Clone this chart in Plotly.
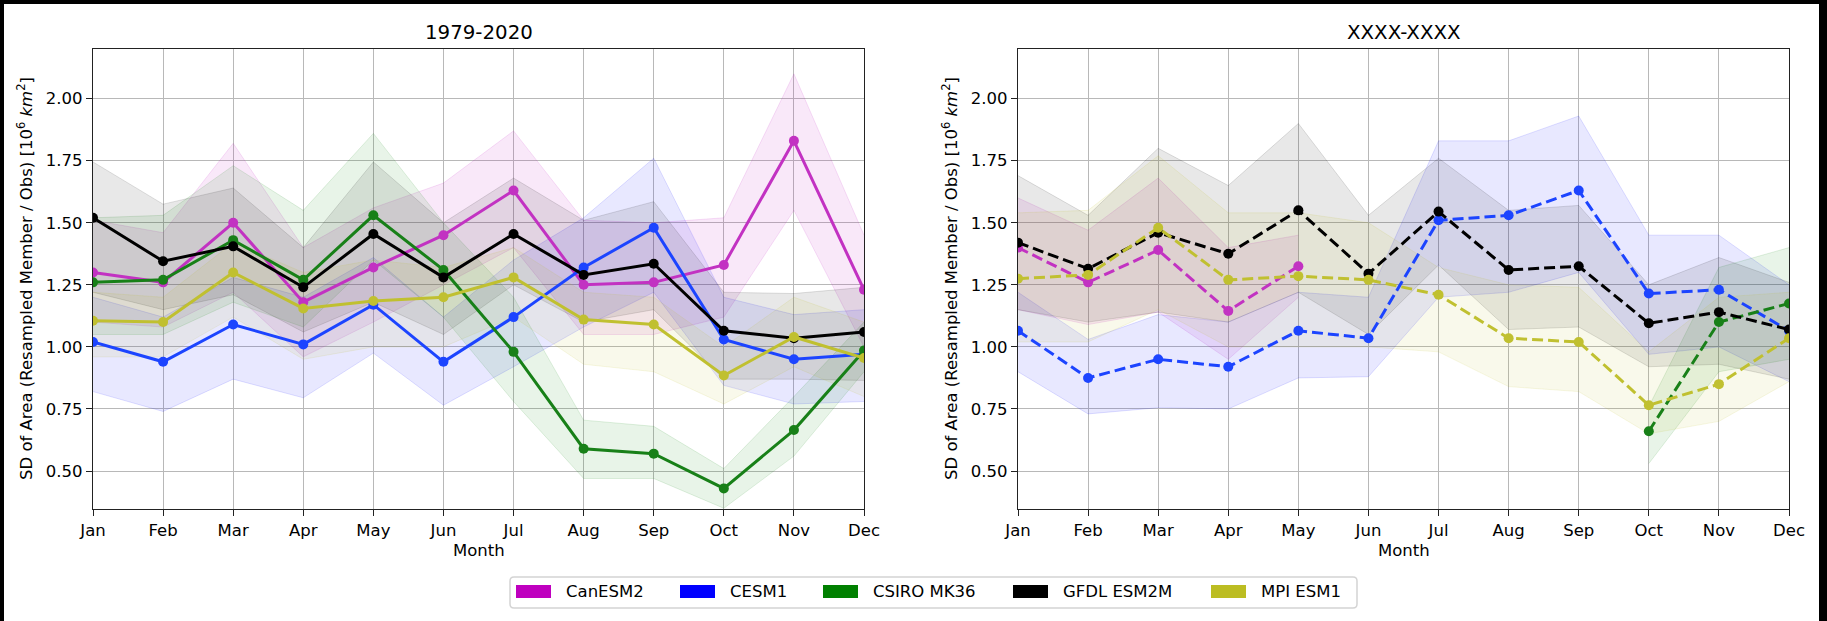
import plotly.graph_objects as go

W, H = 1827, 621

months = ["Jan", "Feb", "Mar", "Apr", "May", "Jun", "Jul", "Aug", "Sep", "Oct", "Nov", "Dec"]
models = ["CanESM2", "CESM1", "CSIRO MK36", "GFDL ESM2M", "MPI ESM1"]
titles = ["1979-2020", "XXXX-XXXX"]
yticks = [0.50, 0.75, 1.00, 1.25, 1.50, 1.75, 2.00]

# ---- left panel (1979-2020) ----
can_L = [1.30, 1.26, 1.50, 1.18, 1.32, 1.45, 1.63, 1.25, 1.26, 1.33, 1.83, 1.23]
can_L_up = [1.51, 1.46, 1.82, 1.40, 1.56, 1.66, 1.87, 1.51, 1.50, 1.52, 2.10, 1.45]
can_L_lo = [1.10, 1.08, 1.22, 0.96, 1.10, 1.25, 1.40, 1.05, 1.05, 1.12, 1.55, 1.00]

cesm_L = [1.02, 0.94, 1.09, 1.01, 1.17, 0.94, 1.12, 1.32, 1.48, 1.03, 0.95, 0.97]
cesm_L_up = [1.20, 1.12, 1.28, 1.20, 1.36, 1.12, 1.35, 1.52, 1.76, 1.20, 1.13, 1.15]
cesm_L_lo = [0.82, 0.74, 0.87, 0.795, 0.975, 0.765, 0.92, 1.08, 1.22, 0.845, 0.77, 0.78]

csiro_L = [1.26, 1.27, 1.43, 1.27, 1.53, 1.31, 0.98, 0.59, 0.57, 0.43, 0.665, 0.985]
csiro_L_up = [1.52, 1.53, 1.73, 1.55, 1.86, 1.50, 1.20, 0.705, 0.68, 0.51, 0.80, 1.10]
csiro_L_lo = [1.05, 1.05, 1.18, 1.08, 1.35, 1.12, 0.78, 0.47, 0.47, 0.35, 0.56, 0.90]

gfdl_L = [1.52, 1.345, 1.405, 1.24, 1.455, 1.28, 1.455, 1.29, 1.335, 1.065, 1.035, 1.06]
gfdl_L_up = [1.745, 1.575, 1.64, 1.40, 1.745, 1.50, 1.68, 1.51, 1.585, 1.22, 1.215, 1.24]
gfdl_L_lo = [1.22, 1.15, 1.21, 1.06, 1.18, 1.05, 1.25, 1.10, 1.15, 0.87, 0.87, 0.865]

mpi_L = [1.105, 1.10, 1.30, 1.155, 1.185, 1.20, 1.28, 1.11, 1.09, 0.885, 1.04, 0.955]
mpi_L_up = [1.22, 1.20, 1.42, 1.30, 1.35, 1.32, 1.40, 1.22, 1.20, 1.00, 1.20, 1.10]
mpi_L_lo = [0.96, 0.96, 1.12, 0.95, 1.00, 1.00, 1.12, 0.93, 0.90, 0.77, 0.92, 0.80]

# ---- right panel (XXXX-XXXX) ----
can_R = [1.40, 1.26, 1.39, 1.145, 1.325, None, None, None, None, None, None, None]
can_R_up = [1.60, 1.47, 1.68, 1.40, 1.45, None, None, None, None, None, None, None]
can_R_lo = [1.15, 1.09, 1.14, 0.95, 1.20, None, None, None, None, None, None, None]

cesm_R = [1.065, 0.875, 0.95, 0.92, 1.065, 1.035, 1.51, 1.53, 1.63, 1.215, 1.23, 1.065]
cesm_R_up = [1.22, 1.03, 1.13, 1.10, 1.22, 1.20, 1.83, 1.83, 1.93, 1.45, 1.45, 1.25]
cesm_R_lo = [0.90, 0.73, 0.755, 0.75, 0.875, 0.88, 1.20, 1.22, 1.30, 0.97, 1.00, 0.86]

csiro_R = [None, None, None, None, None, None, None, None, None, 0.66, 1.10, 1.175]
csiro_R_up = [None, None, None, None, None, None, None, None, None, 0.76, 1.32, 1.40]
csiro_R_lo = [None, None, None, None, None, None, None, None, None, 0.53, 0.90, 0.95]

gfdl_R = [1.42, 1.315, 1.46, 1.375, 1.55, 1.295, 1.545, 1.31, 1.325, 1.095, 1.14, 1.07]
gfdl_R_up = [1.69, 1.53, 1.80, 1.65, 1.90, 1.53, 1.76, 1.55, 1.57, 1.25, 1.36, 1.26]
gfdl_R_lo = [1.15, 1.10, 1.14, 1.10, 1.22, 1.05, 1.33, 1.07, 1.08, 0.92, 0.93, 0.87]

mpi_R = [1.275, 1.29, 1.48, 1.27, 1.285, 1.27, 1.21, 1.035, 1.02, 0.765, 0.85, 1.035]
mpi_R_up = [1.54, 1.55, 1.77, 1.54, 1.54, 1.50, 1.32, 1.25, 1.24, 0.98, 1.20, 1.22]
mpi_R_lo = [1.02, 1.02, 1.15, 1.00, 1.00, 1.00, 0.98, 0.84, 0.82, 0.65, 0.70, 0.86]

# styles
base_rgb = [(191, 0, 191), (0, 0, 255), (0, 128, 0), (0, 0, 0), (188, 189, 34)]
line_rgb = [(194, 50, 194), (28, 68, 255), (24, 128, 24), (0, 0, 0), (192, 192, 48)]

panels = [
    dict(vals=[can_L, cesm_L, csiro_L, gfdl_L, mpi_L],
         up=[can_L_up, cesm_L_up, csiro_L_up, gfdl_L_up, mpi_L_up],
         lo=[can_L_lo, cesm_L_lo, csiro_L_lo, gfdl_L_lo, mpi_L_lo],
         dash="solid", xa="x", ya="y"),
    dict(vals=[can_R, cesm_R, csiro_R, gfdl_R, mpi_R],
         up=[can_R_up, cesm_R_up, csiro_R_up, gfdl_R_up, mpi_R_up],
         lo=[can_R_lo, cesm_R_lo, csiro_R_lo, gfdl_R_lo, mpi_R_lo],
         dash="11px,5px", xa="x2", ya="y2"),
]

fig = go.Figure()

def keep(xs, ys):
    pts = [(x, y) for x, y in zip(xs, ys) if y is not None]
    return [p[0] for p in pts], [p[1] for p in pts]

xs_all = list(range(len(months)))

for p in panels:
    # bands first
    for i in range(len(models)):
        r, g, b = base_rgb[i]
        xu, yu = keep(xs_all, p["up"][i])
        xl, yl = keep(xs_all, p["lo"][i])
        fig.add_trace(go.Scatter(x=xu, y=yu, mode="lines", xaxis=p["xa"], yaxis=p["ya"],
                                 line=dict(color=f"rgba({r},{g},{b},0.12)", width=1),
                                 showlegend=False, hoverinfo="skip"))
        fig.add_trace(go.Scatter(x=xl, y=yl, mode="lines", xaxis=p["xa"], yaxis=p["ya"],
                                 line=dict(color=f"rgba({r},{g},{b},0.12)", width=1),
                                 fill="tonexty", fillcolor=f"rgba({r},{g},{b},0.09)",
                                 showlegend=False, hoverinfo="skip"))
    # then lines
    for i in range(len(models)):
        r, g, b = line_rgb[i]
        xv, yv = keep(xs_all, p["vals"][i])
        fig.add_trace(go.Scatter(x=xv, y=yv, mode="lines+markers", xaxis=p["xa"], yaxis=p["ya"],
                                 name=models[i], showlegend=False,
                                 line=dict(color=f"rgb({r},{g},{b})", width=3, dash=p["dash"]),
                                 marker=dict(color=f"rgb({r},{g},{b})", size=10)))

def px(x):
    return x / W

def py(y):
    return 1 - y / H

FONT = "DejaVu Sans"
axis_common = dict(
    showline=True, linecolor="#222222", linewidth=1.2, mirror=True,
    showgrid=True, gridcolor="#b8b8b8", gridwidth=1.3,
    ticks="outside", ticklen=6, tickwidth=1.2, tickcolor="#222222",
    tickfont=dict(family=FONT, size=16.5, color="black"),
    zeroline=False, automargin=False,
)

ydom = [py(509), py(49)]
fig.update_layout(
    width=W, height=H, margin=dict(l=0, r=0, t=0, b=0),
    paper_bgcolor="white", plot_bgcolor="white", showlegend=False,
    xaxis=dict(domain=[px(93), px(864)], range=[0, 11], tickvals=xs_all, ticktext=months,
               anchor="y", **axis_common),
    yaxis=dict(domain=ydom, range=[0.347, 2.20], tickvals=yticks, tickformat=".2f",
               anchor="x", **axis_common),
    xaxis2=dict(domain=[px(1018), px(1789)], range=[0, 11], tickvals=xs_all, ticktext=months,
                anchor="y2", **axis_common),
    yaxis2=dict(domain=ydom, range=[0.347, 2.20], tickvals=yticks, tickformat=".2f",
                anchor="x2", **axis_common),
)

ytitle = "SD of Area (Resampled Member / Obs) [10<sup>6</sup> <i>km</i><sup>2</sup>]"
ann = []
for cx, t in zip([478.5, 1403.5], titles):
    ann.append(dict(x=px(cx), y=py(32), xref="paper", yref="paper", text=t, showarrow=False,
                    xanchor="center", yanchor="middle", font=dict(family=FONT, size=19.8, color="black")))
    ann.append(dict(x=px(cx), y=py(550), xref="paper", yref="paper", text="Month", showarrow=False,
                    xanchor="center", yanchor="middle", font=dict(family=FONT, size=16.5, color="black")))
for cx in [25, 950]:
    ann.append(dict(x=px(cx), y=py(279), xref="paper", yref="paper", text=ytitle, showarrow=False,
                    textangle=-90, xanchor="center", yanchor="middle",
                    font=dict(family=FONT, size=16.5, color="black")))

# legend (drawn as a framed row of colour patches with text labels)
shapes = []
lx0, lx1, ly0, ly1 = 510, 1357, 577, 608
rad = 4
path = (f"M {px(lx0+rad)},{py(ly0)} L {px(lx1-rad)},{py(ly0)} Q {px(lx1)},{py(ly0)} {px(lx1)},{py(ly0+rad)} "
        f"L {px(lx1)},{py(ly1-rad)} Q {px(lx1)},{py(ly1)} {px(lx1-rad)},{py(ly1)} "
        f"L {px(lx0+rad)},{py(ly1)} Q {px(lx0)},{py(ly1)} {px(lx0)},{py(ly1-rad)} "
        f"L {px(lx0)},{py(ly0+rad)} Q {px(lx0)},{py(ly0)} {px(lx0+rad)},{py(ly0)} Z")
shapes.append(dict(type="path", xref="paper", yref="paper", path=path,
                   line=dict(color="#d4d4d4", width=1.5), fillcolor="white", layer="above"))
patch_x = [516, 680, 823, 1013, 1211]
for i, m in enumerate(models):
    r, g, b = base_rgb[i]
    x0 = patch_x[i]
    shapes.append(dict(type="rect", xref="paper", yref="paper", x0=px(x0), x1=px(x0 + 35),
                       y0=py(598), y1=py(585), line=dict(width=0),
                       fillcolor=f"rgb({r},{g},{b})", layer="above"))
    ann.append(dict(x=px(x0 + 48), y=py(591.5), xref="paper", yref="paper", text=m, showarrow=False,
                    xanchor="left", yanchor="middle", font=dict(family=FONT, size=16.5, color="black")))

# outer dark frame of the picture
shapes.append(dict(type="rect", xref="paper", yref="paper", x0=0, x1=px(4), y0=0, y1=1,
                   line=dict(width=0), fillcolor="black", layer="above"))
shapes.append(dict(type="rect", xref="paper", yref="paper", x0=0, x1=1, y0=py(4), y1=1,
                   line=dict(width=0), fillcolor="black", layer="above"))
shapes.append(dict(type="rect", xref="paper", yref="paper", x0=px(1819), x1=1, y0=0, y1=1,
                   line=dict(width=0), fillcolor="black", layer="above"))

fig.update_layout(annotations=ann, shapes=shapes)
fig.write_html("out.html")
